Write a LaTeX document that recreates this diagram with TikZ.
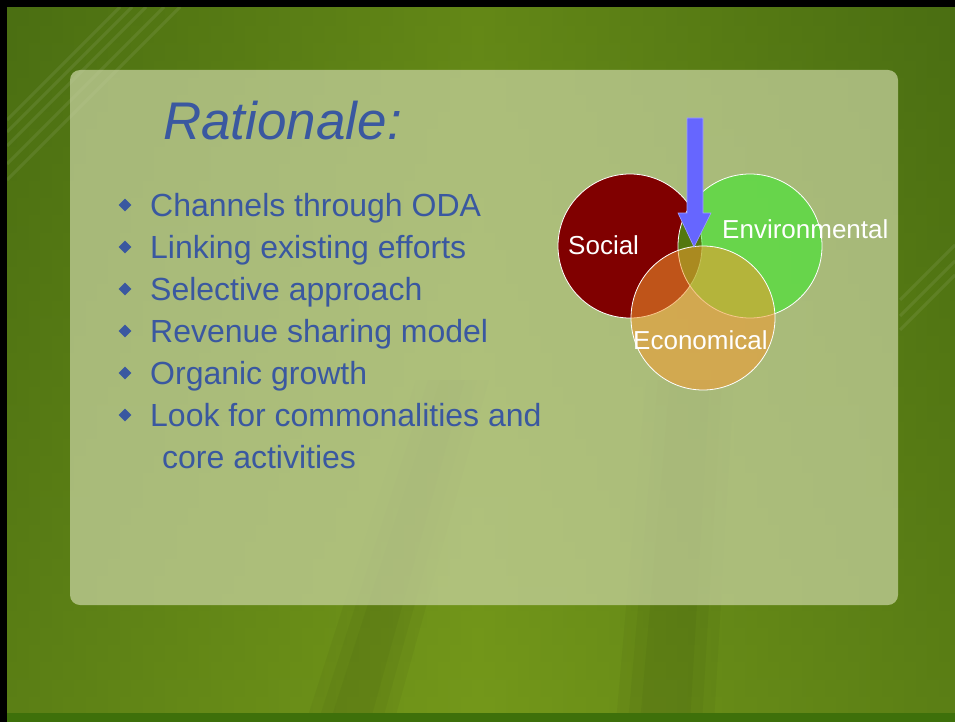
\documentclass[tikz,border=0pt]{standalone}
\usepackage{fontspec}
\setmainfont{Liberation Sans}
\usetikzlibrary{positioning,shapes.geometric}

\begin{document}
\begin{tikzpicture}[x=1pt, y=-1pt]

% Farger.
\definecolor{cLeafDark}{RGB}{74,110,18}
\definecolor{cLeaf}{RGB}{116,152,26}
\definecolor{cStrip}{RGB}{62,112,10}
\definecolor{cPanel}{RGB}{200,211,161}
\definecolor{cText}{RGB}{58,88,160}
\definecolor{cSocial}{RGB}{128,0,0}
\definecolor{cEnv}{RGB}{40,240,30}
\definecolor{cEco}{RGB}{243,153,47}
\definecolor{cArrow}{RGB}{102,102,255}

% Stiler.
\tikzset{
  ttl/.style={font=\fontsize{53}{60}\selectfont\itshape, text=cText, anchor=base west, inner sep=0pt},
  item/.style={font=\fontsize{32}{38}\selectfont, text=cText, anchor=base west, inner sep=0pt},
  dot/.style={diamond, fill=cText, inner sep=0pt, minimum size=13pt},
  venn/.style={circle, draw=white, line width=0.8pt, minimum size=144pt, inner sep=0pt},
  vlabel/.style={font=\fontsize{26}{30}\selectfont, text=white, anchor=base west, inner sep=0pt},
  streak/.style={white, line width=3pt, opacity=0.08},
  band/.style={black, opacity=0.035}
}

% Bakgrunn.
\useasboundingbox (0,0) rectangle (955,722);
\shade[left color=cLeafDark, right color=cLeafDark, middle color=cLeaf] (0,0) rectangle (955,722);
\shade[top color=cLeafDark, bottom color=cLeaf, opacity=0.4] (0,0) rectangle (955,722);
\foreach \w in {0,12,24}{
  \fill[band] ({330-\w},722) -- ({370+\w},722) -- ({465+\w},380) -- ({440-\w},380) -- cycle;
  \fill[band] ({640-\w},722) -- ({690+\w},722) -- ({710+\w},380) -- ({670-\w},380) -- cycle;
}
\foreach \s in {0,12,26,44,60}{
  \draw[streak] (7,{120+\s}) -- ({120+\s},7);
}
\foreach \s in {0,16,30}{
  \draw[streak] (900,{300+\s}) -- (955,{245+\s});
}

% Panel.
\fill[cPanel, fill opacity=0.72, rounded corners=10pt] (70,70) rectangle (898,605);

% Rammer.
\fill[black] (0,0) rectangle (955,7);
\fill[black] (0,0) rectangle (7,722);
\fill[cStrip] (7,713) rectangle (955,722);

% Tittel.
\node (title) [ttl] at (163,140) {Rationale:};

% Punkter.
\foreach \t [count=\i] in {Channels through ODA, Linking existing efforts, Selective approach,
                           Revenue sharing model, Organic growth, Look for commonalities and}{
  \node (dot\i) [dot] at (125,{163+42*\i}) {};
  \node (item\i) [item] at (150,{174+42*\i}) {\t};
}
\node (item7) [item] at (162,468) {core activities};

% Sirkler.
\node (soc) [venn, fill=cSocial] at (630,246) {};
\node (env) [venn, fill=cEnv, fill opacity=0.5] at (750,246) {};
\node (eco) [venn, fill=cEco, fill opacity=0.55] at (703,318) {};

\node (socl) [vlabel] at (568,254) {Social};
\node (envl) [vlabel] at (722,238) {Environmental};
\node (ecol) [vlabel] at (633,349) {Economical};

% Pil.
\fill[cArrow, draw=cArrow!60!white, line width=0.6pt]
  (687,118) -- (703,118) -- (703,213) -- (711,213) -- (694,247) -- (678,213) -- (687,213) -- cycle;
\end{tikzpicture}
\end{document}
